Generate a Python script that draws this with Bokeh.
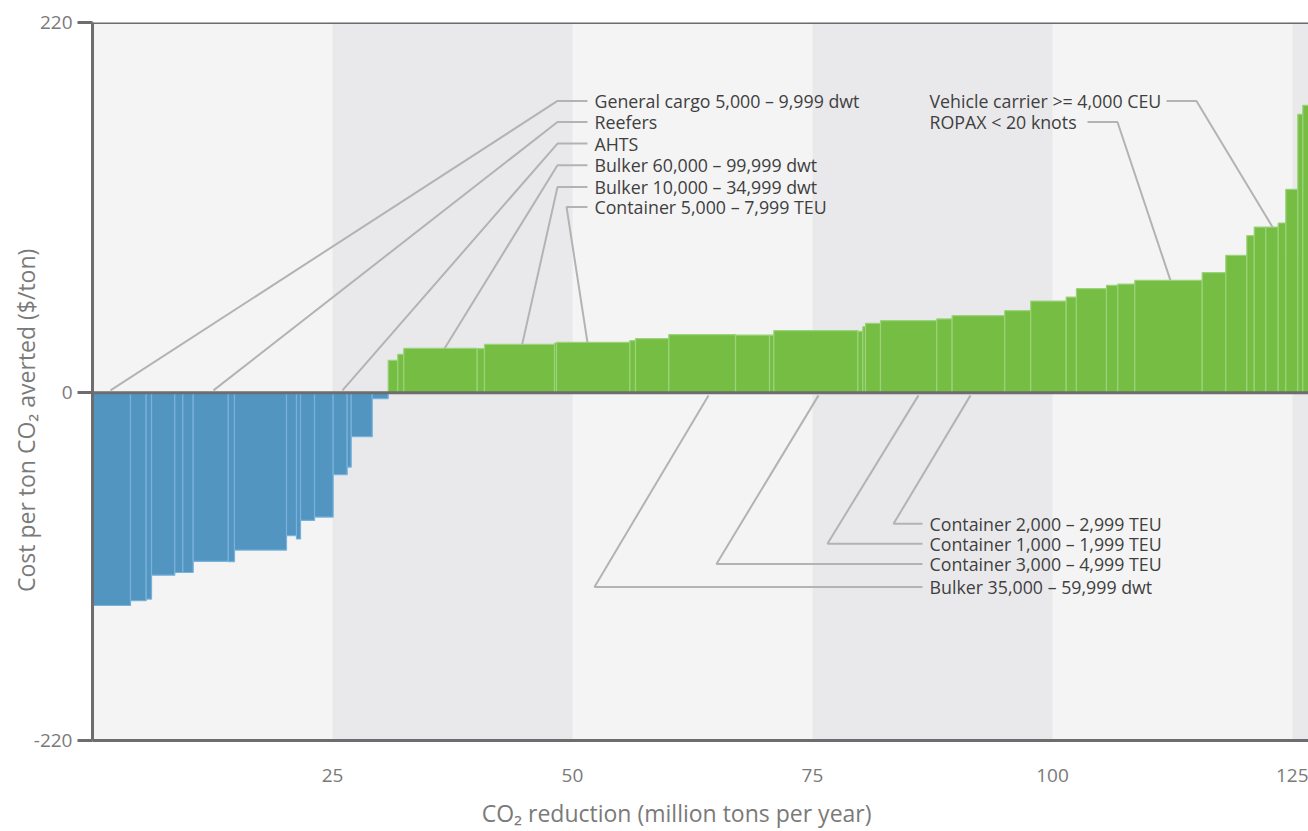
import numpy as np
from bokeh.plotting import figure
from bokeh.models import Range1d, FixedTicker, Span, BoxAnnotation, ColumnDataSource
from bokeh.core.properties import value
from bokeh.embed import file_html
from bokeh.resources import INLINE

# ---- data: each measure = (CO2 reduction width, cost per ton) ----
neg_widths = [3.96, 1.63, 0.56, 2.42, 0.84, 1.08, 3.65, 0.65, 5.42, 1.04, 0.42,
              1.46, 1.94, 1.46, 0.42, 2.19, 1.66]
neg_costs = [-126.3, -123.5, -122.5, -108.3, -106.7, -106.7, -100.1, -100.3, -93.4,
             -84.8, -86.8, -75.8, -73.8, -48.6, -44.1, -26.0, -3.4]
pos_widths = [1.0, 0.625, 7.65, 0.76, 7.29, 0.21, 7.64, 0.59, 3.47, 6.95,
              3.54, 0.45, 8.75, 0.52, 0.28, 1.56, 5.86, 1.6, 5.48, 2.71,
              3.69, 1.07, 3.13, 1.18, 1.77, 7.02, 2.46, 2.19, 0.77, 1.21,
              1.29, 0.79, 1.25, 0.52, 0.70]
pos_costs = [19.3, 22.9, 26.4, 26.3, 28.8, 29.6, 30.0, 31.0, 32.2, 34.6,
             34.3, 34.3, 37.0, 36.5, 39.3, 41.3, 42.9, 43.9, 45.9, 48.8,
             54.5, 56.9, 61.9, 63.8, 64.6, 66.8, 71.4, 81.7, 93.4, 98.5,
             98.5, 100.9, 120.9, 165.5, 170.8]

x_ticks = [25, 50, 75, 100, 125]
y_tick_labels = {220: "220", 0: "0", -206.5: "-220"}
x_title = "CO₂ reduction (million tons per year)"
y_title = "Cost per ton CO₂ averted ($/ton)"

labels = ["General cargo 5,000 – 9,999 dwt", "Reefers", "AHTS",
          "Bulker 60,000 – 99,999 dwt", "Bulker 10,000 – 34,999 dwt",
          "Container 5,000 – 7,999 TEU",
          "Vehicle carrier >= 4,000 CEU", "ROPAX < 20 knots",
          "Container 2,000 – 2,999 TEU", "Container 1,000 – 1,999 TEU",
          "Container 3,000 – 4,999 TEU", "Bulker 35,000 – 59,999 dwt"]

# annotation layout: text x, y, leader start x, elbow x, target x, target y
ann_layout = [
    (52.29, 173.4, 51.56, 48.44, 1.875, 1.5),
    (52.29, 160.9, 51.56, 48.44, 12.6, 1.5),
    (52.29, 148.1, 51.56, 48.44, 26.04, 1.5),
    (52.29, 135.2, 51.56, 48.44, 36.67, 26.4),
    (52.29, 122.3, 51.56, 48.44, 44.76, 28.8),
    (52.29, 110.4, 51.56, 49.38, 51.56, 30.0),
    (87.19, 173.4, 111.88, 115.0, 122.92, 98.5),
    (87.19, 160.9, 103.65, 106.77, 112.29, 66.8),
    (87.19, -77.8, 86.46, 83.44, 91.46, -1.5),
    (87.19, -89.6, 86.46, 76.56, 86.04, -1.5),
    (87.19, -101.6, 86.46, 65.0, 75.63, -1.5),
    (87.19, -115.3, 86.46, 52.29, 64.17, -1.5),
]

FONT = "Open Sans"
AXIS_C = "#6d6d70"
TXT_C = "#7a7a7a"
NB = "\u00a0"

widths = np.array(neg_widths + pos_widths)
costs = np.array(neg_costs + pos_costs)
rights = np.cumsum(widths)
lefts = rights - widths
neg = costs < 0

p = figure(width=1308, height=831, x_range=Range1d(0, 126.67), y_range=Range1d(-206.5, 220),
           output_backend="svg", toolbar_location=None,
           min_border_left=92, min_border_right=0, min_border_top=22, min_border_bottom=91)
p.background_fill_color = "#f4f4f4"
p.border_fill_color = "white"
p.outline_line_color = None
p.grid.visible = False

for a in (25, 75, 125):
    p.add_layout(BoxAnnotation(left=a, right=a + 25, fill_color="#e9e9eb", fill_alpha=1,
                               line_color=None, level="underlay"))

p.quad(left=lefts[neg], right=rights[neg], top=0, bottom=costs[neg],
       fill_color="#5295c1", line_color="#78b2dc", line_width=1.2)
p.quad(left=lefts[~neg], right=rights[~neg], bottom=0, top=costs[~neg],
       fill_color="#75bd43", line_color="#9bd37a", line_width=1.2)

xs, ys = [], []
for (tx, ty, sx, ex, gx, gy) in ann_layout:
    xs.append([sx, ex, gx])
    ys.append([ty, ty, gy])
p.multi_line(xs=xs, ys=ys, line_color="#b3b3b3", line_width=2)

src = ColumnDataSource(dict(x=[a[0] for a in ann_layout], y=[a[1] for a in ann_layout], t=labels))
p.text(x="x", y="y", text="t", source=src, text_font=value(FONT), text_font_size="17.8px",
       text_color="#3f3f3f", text_baseline="middle", text_align="left")

p.add_layout(Span(location=0, dimension="width", line_color=AXIS_C, line_width=3, level="overlay"))
p.add_layout(Span(location=220, dimension="width", line_color=AXIS_C, line_width=3, level="overlay"))

yax = p.yaxis[0]
yax.ticker = FixedTicker(ticks=list(y_tick_labels.keys()))
yax.major_label_overrides = y_tick_labels
yax.axis_line_color = AXIS_C
yax.axis_line_width = 3
yax.major_tick_line_color = AXIS_C
yax.major_tick_line_width = 3
yax.major_tick_out = 15
yax.major_tick_in = 0
yax.minor_tick_line_color = None
yax.major_label_standoff = 5
yax.major_label_text_font = FONT
yax.major_label_text_font_size = "19px"
yax.major_label_text_color = TXT_C
# trailing no-break spaces shift the centred title down, as in the reference
yax.axis_label = y_title + NB * 13
yax.axis_label_text_font = FONT
yax.axis_label_text_font_size = "23px"
yax.axis_label_text_font_style = "normal"
yax.axis_label_text_color = TXT_C
yax.axis_label_standoff = -11

xax = p.xaxis[0]
xax.ticker = FixedTicker(ticks=x_ticks)
xax.axis_line_color = AXIS_C
xax.axis_line_width = 3
xax.major_tick_line_color = None
xax.major_tick_out = 0
xax.major_tick_in = 0
xax.minor_tick_line_color = None
xax.major_label_standoff = 28
xax.major_label_text_font = FONT
xax.major_label_text_font_size = "19px"
xax.major_label_text_color = TXT_C
# trailing no-break spaces shift the centred title left, as in the reference
xax.axis_label = x_title + NB * 8
xax.axis_label_text_font = FONT
xax.axis_label_text_font_size = "23px"
xax.axis_label_text_font_style = "normal"
xax.axis_label_text_color = TXT_C
xax.axis_label_standoff = 12

open("out.html", "w").write(file_html(p, INLINE))
